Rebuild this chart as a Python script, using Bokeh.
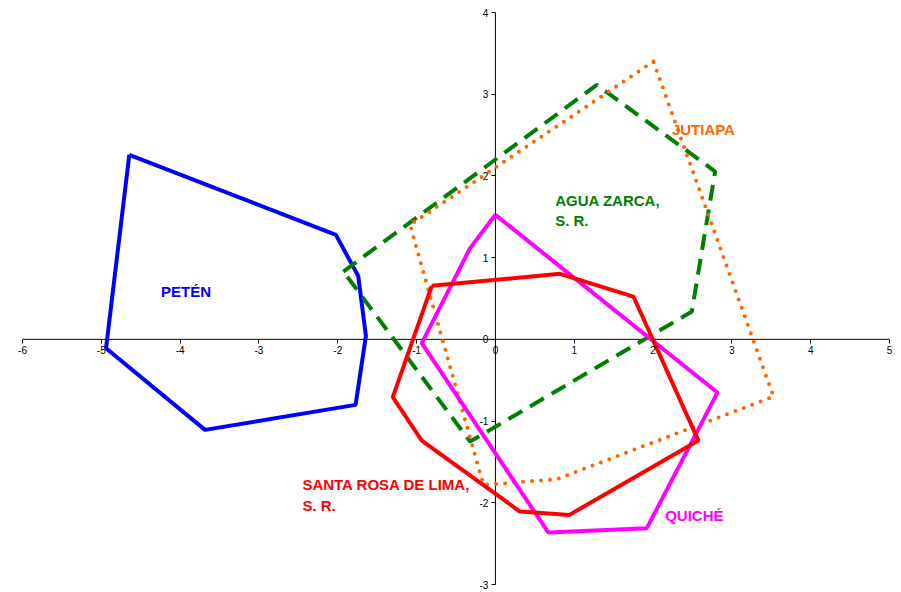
from bokeh.plotting import figure
from bokeh.models import FixedTicker, LinearAxis
from bokeh.core.properties import value
from bokeh.embed import file_html
from bokeh.resources import INLINE

# ---- data ----
peten_x = [-4.645, -2.024, -1.741, -1.643, -1.774, -3.684, -4.94]
peten_y = [2.258, 1.279, 0.777, 0.043, -0.802, -1.108, -0.108]

agua_x = [-1.929, 1.287, 2.788, 2.492, -0.321]
agua_y = [0.830, 3.115, 2.054, 0.340, -1.251]

jutiapa_x = [2.005, -1.083, -0.152, 0.78, 3.528]
jutiapa_y = [3.400, 1.401, -1.781, -1.711, -0.700]

quiche_x = [0.0, -0.321, -0.934, 0.673, 1.921, 2.817]
quiche_y = [1.524, 1.116, -0.047, -2.365, -2.311, -0.651]

santa_x = [-0.807, 0.821, 1.751, 2.576, 0.939, 0.313, -0.934, -1.302]
santa_y = [0.655, 0.802, 0.524, -1.239, -2.148, -2.108, -1.239, -0.707]

x_ticks = [-6, -5, -4, -3, -2, -1, 0, 1, 2, 3, 4, 5]
y_ticks = [-3, -2, -1, 0, 1, 2, 3, 4]

label_text = ["PETÉN", "JUTIAPA", "AGUA ZARCA,", "S.  R.", "SANTA ROSA DE LIMA,", "S. R.", "QUICHÉ"]
label_x = [-4.243, 2.239, 0.758, 0.758, -2.449, -2.449, 2.154]
label_y = [0.585, 2.564, 1.695, 1.454, -1.781, -2.034, -2.157]
label_color = ["#0000FF", "#FF6600", "#008000", "#008000", "#FF0000", "#FF0000", "#FF00FF"]


def closed(a):
    return list(a) + [a[0]]


# pixel scale of the reference: 867 px for the x span, 572 px for the y span
xs = 867 / (x_ticks[-1] - x_ticks[0])
ys = 572 / (y_ticks[-1] - y_ticks[0])
pad_l, pad_r, pad_t, pad_b = 12, 8, 8, 6

p = figure(
    frame_width=867 + pad_l + pad_r, frame_height=572 + pad_t + pad_b,
    x_range=(x_ticks[0] - pad_l / xs, x_ticks[-1] + pad_r / xs),
    y_range=(y_ticks[0] - pad_b / ys, y_ticks[-1] + pad_t / ys),
    output_backend="svg", toolbar_location=None,
    x_axis_type=None, y_axis_type=None,
    min_border_left=22 - pad_l, min_border_top=12 - pad_t, min_border_right=0, min_border_bottom=0,
)
p.grid.visible = False
p.outline_line_color = None
p.background_fill_color = "white"
p.border_fill_color = "white"

for ax_place, ticks in (("below", x_ticks), ("left", y_ticks)):
    ax = LinearAxis(fixed_location=0, ticker=FixedTicker(ticks=ticks))
    ax.major_label_overrides = {t: str(t) for t in ticks}
    ax.axis_line_color = None
    ax.major_tick_in = 0
    ax.major_tick_out = 4
    ax.major_tick_line_color = "black"
    ax.minor_tick_line_color = None
    ax.major_label_text_font = "Liberation Sans"
    ax.major_label_text_font_size = "10px"
    ax.major_label_text_color = "black"
    ax.major_label_standoff = 3
    p.add_layout(ax, ax_place)

# axis lines spanning exactly the tick range
p.segment(x0=[x_ticks[0], 0], y0=[0, y_ticks[0]], x1=[x_ticks[-1], 0], y1=[0, y_ticks[-1]],
          line_color="black", line_width=1)

p.line(closed(peten_x), closed(peten_y), line_color="#0000FF", line_width=4)
p.line(closed(agua_x), closed(agua_y), line_color="#008000", line_width=4, line_dash="16 9")
p.line(closed(jutiapa_x), closed(jutiapa_y), line_color="#FF6600", line_width=4,
       line_dash="0 9", line_cap="round")
p.line(closed(quiche_x), closed(quiche_y), line_color="#FF00FF", line_width=4)
p.line(closed(santa_x), closed(santa_y), line_color="#FF0000", line_width=4)

p.text(x=label_x, y=label_y, text=label_text, text_color=label_color,
       text_font=value("Liberation Sans"), text_font_style="bold",
       text_font_size="15px", text_align="left", text_baseline="alphabetic")

open("out.html", "w").write(file_html(p, INLINE))
